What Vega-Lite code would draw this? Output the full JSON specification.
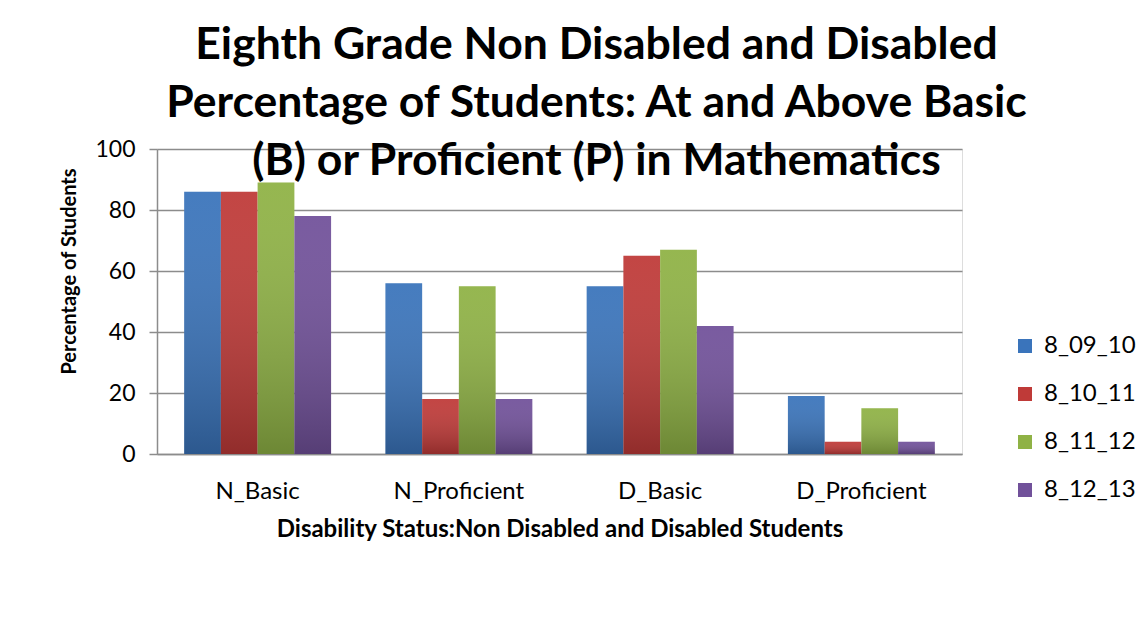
{
  "$schema": "https://vega.github.io/schema/vega-lite/v6.json",
  "width": 805,
  "height": 305,
  "autosize": {"type": "none"},
  "padding": {"left": 157, "top": 149, "right": 185, "bottom": 173},
  "background": "white",
  "title": {
    "text": ["Eighth Grade Non Disabled and Disabled", "Percentage of Students: At and Above Basic", "(B) or Proficient (P) in Mathematics"],
    "font": "Lato",
    "fontSize": 44.5,
    "fontWeight": "bold",
    "color": "black",
    "anchor": "middle",
    "frame": "group",
    "dx": 37,
    "offset": -46,
    "lineHeight": 58
  },
  "data": {
    "values": [
      {"status": "N_Basic", "year": "8_09_10", "pct": 86},
      {"status": "N_Basic", "year": "8_10_11", "pct": 86},
      {"status": "N_Basic", "year": "8_11_12", "pct": 89},
      {"status": "N_Basic", "year": "8_12_13", "pct": 78},
      {"status": "N_Proficient", "year": "8_09_10", "pct": 56},
      {"status": "N_Proficient", "year": "8_10_11", "pct": 18},
      {"status": "N_Proficient", "year": "8_11_12", "pct": 55},
      {"status": "N_Proficient", "year": "8_12_13", "pct": 18},
      {"status": "D_Basic", "year": "8_09_10", "pct": 55},
      {"status": "D_Basic", "year": "8_10_11", "pct": 65},
      {"status": "D_Basic", "year": "8_11_12", "pct": 67},
      {"status": "D_Basic", "year": "8_12_13", "pct": 42},
      {"status": "D_Proficient", "year": "8_09_10", "pct": 19},
      {"status": "D_Proficient", "year": "8_10_11", "pct": 4},
      {"status": "D_Proficient", "year": "8_11_12", "pct": 15},
      {"status": "D_Proficient", "year": "8_12_13", "pct": 4}
    ]
  },
  "encoding": {
    "x": {
      "field": "status",
      "type": "nominal",
      "sort": ["N_Basic", "N_Proficient", "D_Basic", "D_Proficient"],
      "scale": {"paddingInner": 0.27, "paddingOuter": 0.135},
      "axis": {
        "labelAngle": 0,
        "ticks": false,
        "domainColor": "#8c8c8c",
        "domainWidth": 1.5,
        "labelFont": "Lato",
        "labelFontSize": 24,
        "labelColor": "black",
        "labelPadding": 25,
        "title": "Disability Status:Non Disabled and Disabled Students",
        "titleFont": "Lato",
        "titleFontSize": 24,
        "titleFontWeight": "bold",
        "titleColor": "black",
        "titlePadding": 14
      }
    },
    "xOffset": {
      "field": "year",
      "type": "nominal",
      "sort": ["8_09_10", "8_10_11", "8_11_12", "8_12_13"],
      "scale": {"paddingInner": 0, "paddingOuter": 0}
    },
    "y": {
      "field": "pct",
      "type": "quantitative",
      "scale": {"domain": [0, 100]},
      "axis": {
        "values": [0, 20, 40, 60, 80, 100],
        "grid": true,
        "gridColor": "#8c8c8c",
        "gridWidth": 1.5,
        "domainColor": "#8c8c8c",
        "domainWidth": 1.5,
        "tickColor": "#8c8c8c",
        "tickWidth": 1.5,
        "tickSize": 8,
        "labelFont": "Lato",
        "labelFontSize": 23,
        "labelColor": "black",
        "labelPadding": 14,
        "title": "Percentage of Students",
        "titleFont": "Lato",
        "titleFontSize": 20,
        "titleFontWeight": "bold",
        "titleColor": "black",
        "titleX": -88,
        "titleY": 122,
        "titleAngle": -90,
        "titleAlign": "center",
        "titleBaseline": "middle"
      }
    }
  },
  "layer": [
    {
      "mark": {"type": "bar"},
      "encoding": {
        "fill": {
          "field": "year",
          "type": "nominal",
          "scale": {
            "domain": ["8_09_10", "8_10_11", "8_11_12", "8_12_13"],
            "range": ["#3a74bb", "#bf3a38", "#8fb245", "#71519a"]
          },
          "legend": {
            "orient": "none",
            "legendX": 856,
            "legendY": 185,
            "title": null,
            "symbolType": "square",
            "symbolSize": 196,
            "symbolStrokeWidth": 0,
            "symbolOpacity": 1,
            "labelFont": "Lato",
            "labelFontSize": 24,
            "labelColor": "black",
            "labelOffset": 7,
            "rowPadding": 24
          }
        }
      }
    },
    {
      "mark": {
        "type": "bar",
        "color": {
          "gradient": "linear",
          "x1": 0, "y1": 0, "x2": 0, "y2": 1,
          "stops": [
            {"offset": 0, "color": "rgba(255,255,255,0.06)"},
            {"offset": 1, "color": "rgba(0,0,0,0.24)"}
          ]
        }
      },
      "encoding": {}
    }
  ]
}
